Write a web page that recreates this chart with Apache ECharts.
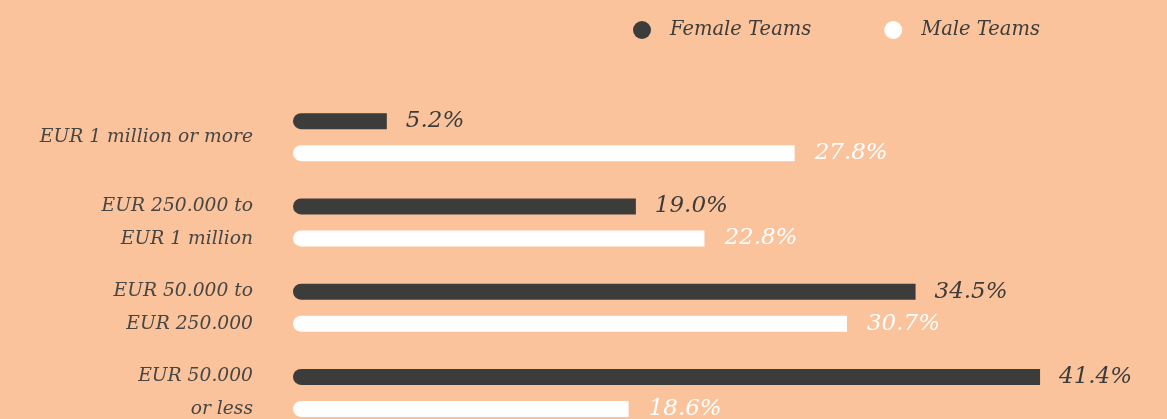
<!DOCTYPE html>
<html><head><meta charset="utf-8">
<script src="https://cdn.jsdelivr.net/npm/echarts@6/dist/echarts.min.js"></script>
<style>html,body{margin:0;padding:0;background:#FBC39C;}#c{width:1167px;height:419px;}</style>
</head><body><div id="c"></div>
<script>
const categories = ["EUR 1 million or more", "EUR 250.000 to\nEUR 1 million", "EUR 50.000 to\nEUR 250.000", "EUR 50.000\nor less"];
const femaleTeams = [5.2, 19.0, 34.5, 41.4];
const maleTeams = [27.8, 22.8, 30.7, 18.6];
const seriesNames = ["Female Teams", "Male Teams"];

const FONT = "DejaVu Serif";
const chart = echarts.init(document.getElementById('c'));
const fmt = p => p.value.toFixed(1) + '%';
chart.setOption({
  backgroundColor: '#FBC39C',
  animation: false,
  legend: {
    top: 15, left: 628,
    itemGap: 73, itemWidth: 18, itemHeight: 18,
    icon: 'circle',
    textStyle: { fontFamily: FONT, fontStyle: 'italic', fontSize: 19.5, color: '#3c3c3a', padding: [0,0,0,14] },
    data: seriesNames
  },
  grid: { left: 293, right: 62, top: 94.5, height: 341, containLabel: false, outerBoundsMode: 'none' },
  xAxis: { type: 'value', min: 0, max: 45, show: false },
  yAxis: {
    type: 'category', inverse: true, data: categories,
    axisLine: { show: false }, axisTick: { show: false }, splitLine: { show: false },
    axisLabel: { margin: 40, fontFamily: FONT, fontStyle: 'italic', fontSize: 18.7, lineHeight: 33, color: '#464644', align: 'right' }
  },
  series: [
    { name: seriesNames[0], type: 'bar', data: femaleTeams, barWidth: 16, barGap: '100%',
      itemStyle: { color: '#3c3c3a', borderRadius: [8,0,0,8] },
      label: { show: true, position: 'right', distance: 19, formatter: fmt, fontFamily: FONT, fontStyle: 'italic', fontSize: 23, color: '#3c3c3a' } },
    { name: seriesNames[1], type: 'bar', data: maleTeams, barWidth: 16, barGap: '100%',
      itemStyle: { color: '#ffffff', borderRadius: [8,0,0,8] },
      label: { show: true, position: 'right', distance: 20, formatter: fmt, fontFamily: FONT, fontStyle: 'italic', fontSize: 23, color: '#ffffff' } }
  ]
});
</script></body></html>
